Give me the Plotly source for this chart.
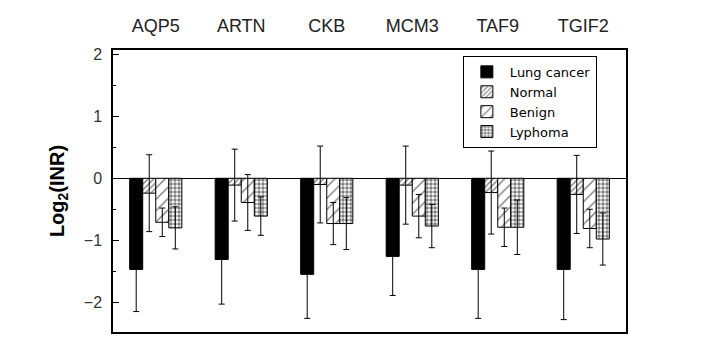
import plotly.graph_objects as go

genes = ["AQP5", "ARTN", "CKB", "MCM3", "TAF9", "TGIF2"]
series_names = ["Lung cancer", "Normal", "Benign", "Lyphoma"]

lung = [-1.47, -1.31, -1.55, -1.26, -1.47, -1.47]
lung_err = [0.68, 0.72, 0.71, 0.63, 0.79, 0.81]
normal = [-0.24, -0.11, -0.10, -0.11, -0.23, -0.26]
normal_err = [0.62, 0.58, 0.62, 0.63, 0.67, 0.63]
benign = [-0.71, -0.39, -0.73, -0.61, -0.79, -0.81]
benign_err = [0.23, 0.45, 0.34, 0.35, 0.31, 0.31]
lyphoma = [-0.80, -0.61, -0.73, -0.77, -0.79, -0.98]
lyphoma_err = [0.34, 0.31, 0.42, 0.35, 0.44, 0.42]

values = [lung, normal, benign, lyphoma]
errors = [lung_err, normal_err, benign_err, lyphoma_err]
patterns = [
    dict(shape=""),
    dict(shape="/", size=4, solidity=0.35, fgcolor="black", bgcolor="white", fillmode="overlay"),
    dict(shape="/", size=8, solidity=0.18, fgcolor="black", bgcolor="white", fillmode="overlay"),
    dict(shape=".", size=4, solidity=0.6, fgcolor="black", bgcolor="white", fillmode="overlay"),
]
colors = ["black", "white", "white", "white"]

fig = go.Figure()
for name, v, e, p, c in zip(series_names, values, errors, patterns, colors):
    fig.add_trace(go.Bar(
        x=genes, y=v, name=name,
        marker=dict(color=c, line=dict(color="black", width=1), pattern=p),
        error_y=dict(type="data", array=e, visible=True, color="black", thickness=1, width=3),
    ))

font_family = "Liberation Sans, Arial, sans-serif"
fig.update_layout(
    width=715, height=348,
    margin=dict(l=113, r=89, t=50, b=16),
    paper_bgcolor="white", plot_bgcolor="white",
    barmode="group", bargap=0.39, bargroupgap=0,
    font=dict(family=font_family, color="#222"),
    showlegend=True,
    legend=dict(
        x=0.682, y=0.979, xanchor="left", yanchor="top",
        bordercolor="black", borderwidth=1, bgcolor="white",
        font=dict(family="DejaVu Sans, sans-serif", size=13, color="black"), tracegroupgap=0,
        itemwidth=36,
    ),
    xaxis=dict(
        side="top", range=[-0.5, 5.5], showline=True, linecolor="black", linewidth=1.5,
        mirror=True, ticks="", tickfont=dict(size=18, color="#222"),
        ticklabelstandoff=9, showgrid=False,
    ),
    yaxis=dict(
        range=[-2.48, 2.07], dtick=1, tick0=0, ticks="inside", ticklen=6, tickcolor="black",
        minor=dict(dtick=0.5, ticks="inside", ticklen=3, tickcolor="black"),
        showline=True, linecolor="black", linewidth=1.5, mirror=True,
        showgrid=False, zeroline=True, zerolinecolor="black", zerolinewidth=1,
        tickfont=dict(size=16, color="#333"), ticklabelstandoff=6,
        title=dict(text="<b>Log<sub>2</sub>(INR)</b>", font=dict(size=20, color="black"), standoff=14),
    ),
)

fig.write_html("out.html")
